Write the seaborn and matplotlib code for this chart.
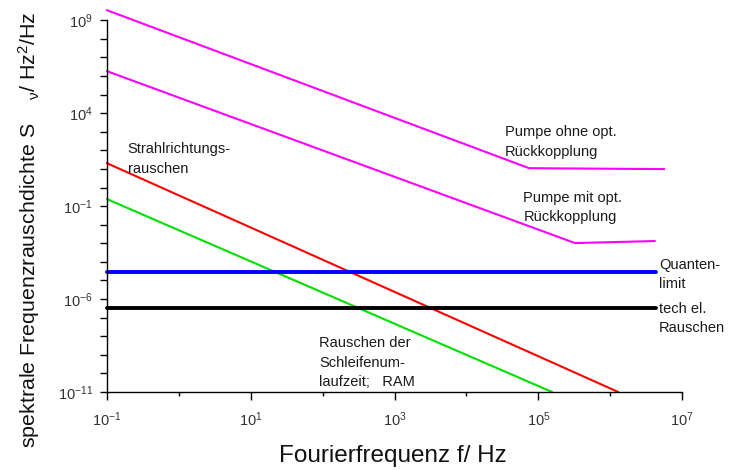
import numpy as np
import matplotlib
matplotlib.use("Agg")
import matplotlib.pyplot as plt
import seaborn as sns
from matplotlib.ticker import FixedLocator, NullFormatter

# curves (frequency in Hz, density in Hz^2/Hz)
pump_off_f = [1e-1, 10**4.87, 10**6.75]
pump_off_s = [10**9.54, 10**1.04, 10**0.99]
pump_on_f = [1e-1, 10**5.51, 10**6.62]
pump_on_s = [10**6.26, 10**-2.99, 10**-2.88]
beam_f = [1e-1, 10**6.11]
beam_s = [10**1.31, 1e-11]
loop_f = [1e-1, 10**5.19]
loop_s = [10**-0.62, 1e-11]
quantum_f = [1e-1, 10**6.64]
quantum_s = [10**-4.55, 10**-4.55]
tech_f = [1e-1, 10**6.64]
tech_s = [10**-6.48, 10**-6.48]

x_major = [1e-1, 1e1, 1e3, 1e5, 1e7]
y_major = [1e-11, 1e-6, 1e-1, 1e4, 1e9]
x_labels = ["$10^{-1}$", "$10^{1}$", "$10^{3}$", "$10^{5}$", "$10^{7}$"]
y_labels = ["$10^{-11}$", "$10^{-6}$", "$10^{-1}$", "$10^{4}$", "$10^{9}$"]

# annotation texts and their anchor points (log10 f, log10 S)
notes = [
    ("Strahlrichtungs-\nrauschen", -0.71, 1.53),
    ("Pumpe ohne opt.\nRückkopplung", 4.535, 2.44),
    ("Pumpe mit opt.\nRückkopplung", 4.79, -1.08),
    ("Quanten-\nlimit", 6.68, -4.68),
    ("tech el.\nRauschen", 6.68, -7.05),
    ("Rauschen der\nSchleifenum-\nlaufzeit;   RAM", 1.95, -9.44),
]

sns.set_style("ticks")
plt.rcParams['font.family'] = ['Liberation Sans', 'DejaVu Sans']
plt.rcParams['mathtext.fontset'] = 'custom'
plt.rcParams['mathtext.rm'] = 'Liberation Sans'
plt.rcParams['mathtext.it'] = 'Liberation Sans'

fig = plt.figure(figsize=(7.32, 4.70), dpi=100)
ax = fig.add_axes([0.146, 0.166, 0.786, 0.791])

curves = [
    (pump_off_f, pump_off_s, "#ff00ff", 1.5),
    (pump_on_f, pump_on_s, "#ff00ff", 1.5),
    (beam_f, beam_s, "#ff0000", 1.5),
    (loop_f, loop_s, "#00e000", 1.5),
    (quantum_f, quantum_s, "#0000ff", 2.8),
    (tech_f, tech_s, "#000000", 2.8),
]
for f, s, c, lw in curves:
    sns.lineplot(x=f, y=s, ax=ax, color=c, linewidth=lw, sort=False)
for ln in ax.lines:
    ln.set_clip_on(False)

ax.set_xscale("log")
ax.set_yscale("log")
ax.set_xlim(1e-1, 1e7)
ax.set_ylim(1e-11, 1e9)

ax.xaxis.set_major_locator(FixedLocator(x_major))
ax.xaxis.set_minor_locator(FixedLocator([10.0**k for k in range(-1, 8)]))
ax.yaxis.set_major_locator(FixedLocator(y_major))
ax.yaxis.set_minor_locator(FixedLocator([10.0**k for k in range(-11, 10)]))
ax.set_xticklabels(x_labels)
ax.set_yticklabels(y_labels)
ax.xaxis.set_minor_formatter(NullFormatter())
ax.yaxis.set_minor_formatter(NullFormatter())
ax.tick_params(which="both", width=1, labelsize=10.5, colors="black",
               labelcolor="#333333")
ax.tick_params(axis="x", which="major", length=6, pad=7)
ax.tick_params(axis="x", which="minor", length=3)
ax.tick_params(axis="y", which="both", length=5, pad=5)

for side in ["top", "right"]:
    ax.spines[side].set_visible(False)
for side in ["left", "bottom"]:
    ax.spines[side].set_linewidth(1)
    ax.spines[side].set_color("black")

ax.set_xlabel("Fourierfrequenz f/ Hz", fontsize=17.5, color="#111111")
ax.xaxis.set_label_coords(0.497, -0.143)
ax.set_ylabel("spektrale Frequenzrauschdichte S    $_\\nu$/ Hz$^2$/Hz", fontsize=15.4,
              color="#111111")
ax.yaxis.set_label_coords(-0.113, 0.435)

for label, lx, ly in notes:
    ax.text(10**lx, 10**ly, label, fontsize=10.5, color="#1a1a1a",
            linespacing=1.5, va="center", ha="left")

fig.savefig("out.png", dpi=100)
